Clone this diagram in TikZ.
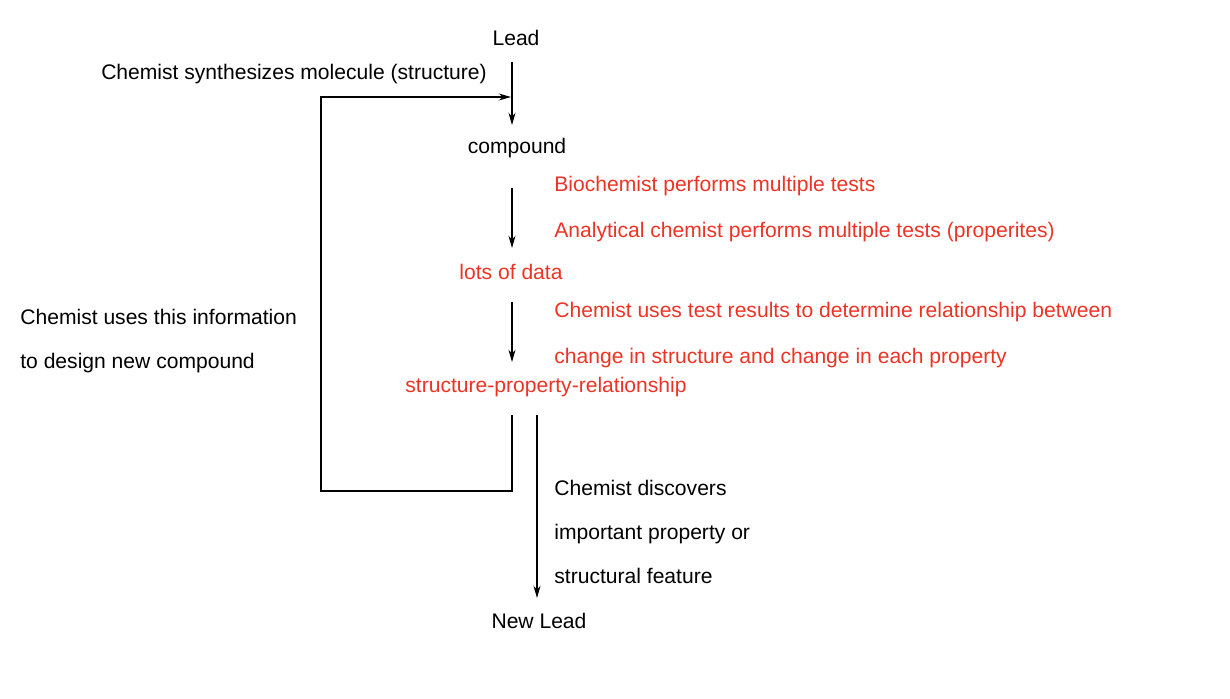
\documentclass[tikz,border=0pt]{standalone}
\usepackage{fontspec}
\setmainfont{Liberation Sans}
\usetikzlibrary{arrows.meta}
\definecolor{redtxt}{RGB}{236,52,38}
\begin{document}
\begin{tikzpicture}[x=0.02cm,y=-0.02cm,
  txt/.style={inner sep=0pt,font=\fontsize{12}{14.5}\selectfont},
  rtxt/.style={txt,text=redtxt},
  arr/.style={-{Stealth[length=7pt,width=4pt]},line width=0.6pt},
  ln/.style={line width=0.6pt}]
\useasboundingbox (0,0) rectangle (1230,698);
\node[txt] (lead) at (516,38) {Lead};
\node[txt] (syn) at (294,74) {Chemist synthesizes molecule (structure)};
\node[txt] (comp) at (517,148) {compound};
\node[txt,align=left,anchor=west,text=redtxt,font=\fontsize{12}{26}\selectfont] (tests) at (554,209) {Biochemist performs multiple tests\\Analytical chemist performs multiple tests (properites)};
\node[rtxt] (data) at (511,272) {lots of data};
\node[txt,align=left,anchor=west,text=redtxt,font=\fontsize{12}{26}\selectfont] (uses) at (554,335) {Chemist uses test results to determine relationship between\\change in structure and change in each property};
\node[rtxt] (spr) at (546,387) {structure-property-relationship};
\node[txt,align=left,anchor=west,font=\fontsize{12}{25}\selectfont] (disc) at (554,532) {Chemist discovers\\important property or\\structural feature};
\node[txt] (newlead) at (539,621) {New Lead};
\node[txt,align=left,anchor=west,font=\fontsize{12}{25}\selectfont] (info) at (20,341) {Chemist uses this information\\to design new compound};
\coordinate (a1) at (512,62);
\coordinate (a2) at (512,125);
\draw[arr] (a1) -- (a2);
\coordinate (b1) at (512,188);
\coordinate (b2) at (512,248);
\draw[arr] (b1) -- (b2);
\coordinate (c1) at (512,302);
\coordinate (c2) at (512,362);
\draw[arr] (c1) -- (c2);
\coordinate (d1) at (537,415);
\coordinate (d2) at (537,598);
\draw[arr] (d1) -- (d2);
\coordinate (f1) at (512,415);
\coordinate (f2) at (512,491);
\coordinate (f3) at (321,491);
\coordinate (f4) at (321,97);
\coordinate (f5) at (511,97);
\draw[ln,-{Stealth[length=7pt,width=4pt]}] (f1) -- (f2) -- (f3) -- (f4) -- (f5);
\end{tikzpicture}
\end{document}
